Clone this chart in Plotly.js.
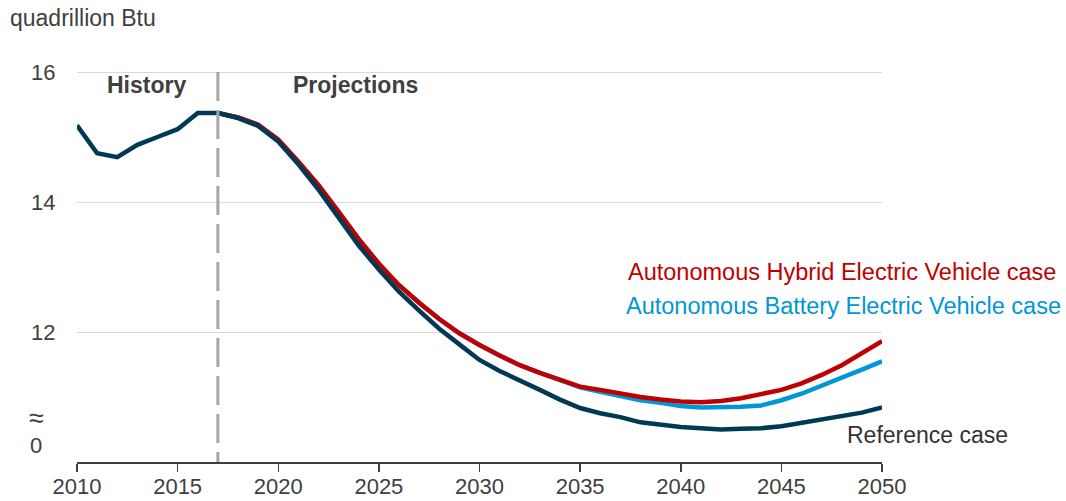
<!DOCTYPE html>
<html>
<head>
<meta charset="utf-8">
<script src="https://cdn.plot.ly/plotly-3.0.1.min.js"></script>
<style>html,body{margin:0;padding:0;background:#fff;}#chart{width:1066px;height:501px;}</style>
</head>
<body>
<div id="chart"></div>
<script>
const refYears = [2010,2011,2012,2013,2014,2015,2016,2017,2018,2019,2020,2021,2022,2023,2024,2025,2026,2027,2028,2029,2030,2031,2032,2033,2034,2035,2036,2037,2038,2039,2040,2041,2042,2043,2044,2045,2046,2047,2048,2049,2050];
const refValues = [15.18,14.75,14.69,14.88,15.00,15.12,15.37,15.37,15.29,15.17,
  14.93,14.58,14.19,13.77,13.33,12.96,12.62,12.33,12.05,11.81,
  11.57,11.40,11.26,11.11,10.96,10.83,10.75,10.69,10.61,10.57,
  10.54,10.52,10.50,10.51,10.52,10.55,10.60,10.66,10.71,10.76,10.84];
const projYears = [2017,2018,2019,2020,2021,2022,2023,2024,2025,2026,2027,2028,2029,2030,2031,2032,2033,2034,2035,2036,2037,2038,2039,2040,2041,2042,2043,2044,2045,2046,2047,2048,2049,2050];
const hybridValues = [15.37,15.30,15.19,
  14.96,14.62,14.26,13.85,13.43,13.05,12.72,12.45,12.20,11.98,
  11.80,11.64,11.49,11.37,11.26,11.16,11.11,11.05,11.00,10.96,
  10.93,10.92,10.94,10.98,11.04,11.11,11.21,11.34,11.49,11.67,11.86];
const batteryValues = [15.37,15.30,15.19,
  14.96,14.62,14.26,13.85,13.43,13.05,12.72,12.45,12.20,11.98,
  11.80,11.64,11.49,11.37,11.26,11.15,11.08,11.01,10.95,10.91,
  10.86,10.84,10.84,10.85,10.87,10.95,11.05,11.17,11.30,11.42,11.55];
const xTicks = [2010,2015,2020,2025,2030,2035,2040,2045,2050];
const yTicks = [12,14,16];
const yTickLabels = ['12','14','16'];

const FONT = 'Arial, "Liberation Sans", sans-serif';
const traces = [
  {x: projYears, y: batteryValues, mode:'lines', line:{color:'#0096d7', width:4.5}, hoverinfo:'skip'},
  {x: projYears, y: hybridValues, mode:'lines', line:{color:'#c00000', width:4.5}, hoverinfo:'skip'},
  {x: refYears, y: refValues, mode:'lines', line:{color:'#003953', width:4.5}, hoverinfo:'skip'}
];
const layout = {
  width:1066, height:501,
  margin:{l:77, r:184, t:59, b:39},
  paper_bgcolor:'#fff', plot_bgcolor:'#fff',
  showlegend:false,
  font:{family:FONT, size:22, color:'#404040'},
  xaxis:{range:[2010,2050], tickvals:xTicks, showgrid:false, zeroline:false,
    showline:true, linecolor:'#404040', linewidth:1.5, ticks:'outside', ticklen:8, tickwidth:1.5, tickcolor:'#404040',
    ticklabelstandoff:-4,
    tickfont:{size:22, color:'#404040'}, fixedrange:true},
  yaxis:{range:[10,16.2], tickvals:yTicks, ticktext:yTickLabels, showgrid:true, gridcolor:'#d9d9d9', gridwidth:1,
    zeroline:false, showline:false, ticks:'outside', ticklen:16, tickcolor:'rgba(0,0,0,0)',
    tickfont:{size:22, color:'#404040'}, fixedrange:true},
  shapes:[{type:'line', xref:'x', yref:'y', x0:2017, x1:2017, y0:16, y1:10,
    line:{color:'#a6a6a6', width:3, dash:'29px,9px'}}],
  annotations:[
    {text:'quadrillion Btu', xref:'paper', yref:'paper', x:-0.0857, y:1.1017, xanchor:'left', yanchor:'middle', showarrow:false, font:{size:23, color:'#404040'}},
    {text:'≈', xref:'paper', yref:'y', x:-0.0509, y:10.68, xanchor:'center', yanchor:'middle', showarrow:false, font:{size:27, color:'#404040'}},
    {text:'0', xref:'paper', yref:'y', x:-0.0509, y:10.26, xanchor:'center', yanchor:'middle', showarrow:false, font:{size:22, color:'#404040'}},
    {text:'<b>History</b>', xref:'x', yref:'y', x:2013.43, y:15.8, xanchor:'center', yanchor:'middle', showarrow:false, font:{size:23, color:'#404040'}},
    {text:'<b>Projections</b>', xref:'x', yref:'y', x:2023.86, y:15.8, xanchor:'center', yanchor:'middle', showarrow:false, font:{size:23, color:'#404040'}},
    {text:'Autonomous Hybrid Electric Vehicle case', xref:'paper', yref:'y', x:1.2186, y:12.92, xanchor:'right', yanchor:'middle', showarrow:false, font:{size:23.5, color:'#c00000'}},
    {text:'Autonomous Battery Electric Vehicle case', xref:'paper', yref:'y', x:1.2248, y:12.40, xanchor:'right', yanchor:'middle', showarrow:false, font:{size:23.5, color:'#0096d7'}},
    {text:'Reference case', xref:'x', yref:'y', x:2048.16, y:10.42, xanchor:'left', yanchor:'middle', showarrow:false, font:{size:23, color:'#333333'}}
  ]
};
Plotly.newPlot('chart', traces, layout, {displayModeBar:false, staticPlot:true});
</script>
</body>
</html>
